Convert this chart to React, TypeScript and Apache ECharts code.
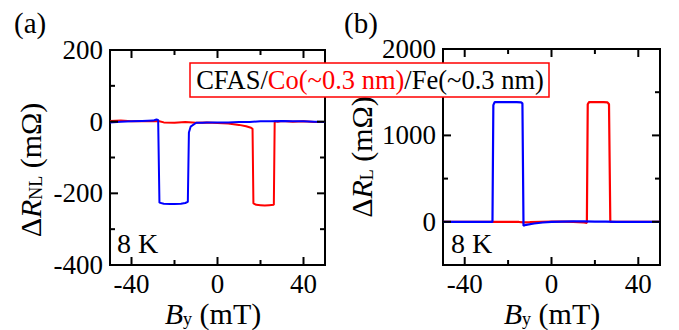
import React, { useEffect, useRef } from "react";
import * as echarts from "echarts";

// Panel (a): non-local ΔR_NL (mΩ) vs B_y (mT)
const redAX = [-50, -45, -40, -35, -30, -27.5, -25, -20, -15, -10, -5, 0, 5, 10, 13.3, 15.6, 16.3, 16.7, 18, 20, 22, 24, 26.2, 26.6, 28, 30, 35, 40, 45, 50];
const redAY = [2, 3, 1, 2, 1, 2, -2, -3, -1, -3, -2, -4, -5, -9, -13, -17, -20, -228, -232, -233, -234, -233, -232, 1, 0, 2, 0, 1, -1, -1];
const blueAX = [-50, -45, -40, -35, -30, -28.4, -27.6, -27.0, -25, -22, -20, -17, -15, -13.8, -13.3, -12.5, -9.9, -7, -5, 0, 5, 10, 15, 20, 25, 30, 35, 40, 45, 50];
const blueAY = [-2, 0, 1, 2, 3, 6, 5, -226, -229, -230, -230, -229, -227, -224, -30, -14, -3, -3, -2, -2, -2, -1, -1, 1, 1, 2, 1, 1, 0, -1];

// Panel (b): local ΔR_L (mΩ) vs B_y (mT)
const redBX = [-50, -40, -30, -26, -20, -15, -13, -10, -5, 0, 5, 10, 15, 16.3, 16.7, 17.3, 20, 24, 25.8, 26.5, 27.1, 28, 30, 40, 50];
const redBY = [0, 0, 0, 0, 0, -2, -6, -4, 0, 3, 2, -2, -8, -12, 1360, 1385, 1386, 1385, 1382, 1360, 0, 0, 0, 0, 0];
const blueBX = [-50, -40, -30, -27.2, -26.8, -26.2, -20, -16, -14, -13.4, -12.9, -11.7, -8, -4, 0, 5, 10, 15, 20, 25, 30, 40, 50];
const blueBY = [0, 0, 0, 0, 1350, 1385, 1386, 1385, 1383, 1370, -45, -35, -20, -8, 0, 3, 5, 5, 3, 2, 0, 0, 0];

const xRange = [-50, 50];
const xMajor = [-40, 0, 40];
const xMinor = [-20, 20];
const yRangeA = [-400, 200];
const yMajorA = [-400, -200, 0, 200];
const yMinorA = [-300, -100, 100];
const yRangeB = [-500, 2000];
const yMajorB = [0, 1000, 2000];
const yMinorB = [500, 1500];
// tick labels of panel (b)'s y axis, every 500 from -500 to 2000 (blank where unlabeled)
const yLabelsB = ["", "0", " ", "1000", "  ", "2000"];

const FONT = "Liberation Serif";
const zip = (xs: number[], ys: number[]) => xs.map((x, i) => [x, ys[i]]);

function valueAxis(grid: number, pos: string, range: number[], vals: number[] | null, margin: number) {
  return {
    type: "value",
    gridIndex: grid,
    position: pos,
    min: range[0],
    max: range[1],
    axisLine: { show: false, onZero: false },
    splitLine: { show: false },
    axisTick: { show: false },
    axisLabel: vals
      ? { show: true, customValues: vals, fontFamily: FONT, fontSize: 27, color: "#000", margin }
      : { show: false },
  };
}

// inside tick marks on all four sides, positioned through the axes' scales
function tickSeries(kind: "x" | "y", axisIdx: number, major: number[], minor: number[], xr: number[], yr: number[]) {
  const data = [...major.map((v) => [v, 1]), ...minor.map((v) => [v, 0])];
  return {
    type: "custom",
    xAxisIndex: axisIdx,
    yAxisIndex: axisIdx,
    silent: true,
    z: 5,
    data,
    renderItem: (_p: any, api: any) => {
      const v = api.value(0);
      const len = api.value(1) ? 8 : 5;
      const st = { stroke: "#000", lineWidth: 2 };
      if (kind === "x") {
        const b = api.coord([v, yr[0]]);
        const t = api.coord([v, yr[1]]);
        return {
          type: "group",
          children: [
            { type: "line", shape: { x1: b[0], y1: b[1], x2: b[0], y2: b[1] - len }, style: st },
            { type: "line", shape: { x1: t[0], y1: t[1], x2: t[0], y2: t[1] + len }, style: st },
          ],
        };
      }
      const l = api.coord([xr[0], v]);
      const r = api.coord([xr[1], v]);
      return {
        type: "group",
        children: [
          { type: "line", shape: { x1: l[0], y1: l[1], x2: l[0] + len, y2: l[1] }, style: st },
          { type: "line", shape: { x1: r[0], y1: r[1], x2: r[0] - len, y2: r[1] }, style: st },
        ],
      };
    },
  };
}

export default function App() {
  const ref = useRef<HTMLDivElement>(null);
  useEffect(() => {
    if (!ref.current) return;
    const chart = echarts.init(ref.current, null, { renderer: "svg" });
    const lineSeries = (data: number[][], color: string, idx: number, w: number) => ({
      type: "line",
      xAxisIndex: idx,
      yAxisIndex: idx,
      data,
      showSymbol: false,
      symbol: "none",
      lineStyle: { color, width: w },
      itemStyle: { color },
      clip: true,
      z: 3,
    });
    const title = {
      n: { fontFamily: FONT, fontSize: 30, fill: "#000", lineHeight: 30 },
      i: { fontFamily: FONT, fontSize: 30, fontStyle: "italic", fill: "#000", lineHeight: 30 },
      s: { fontFamily: FONT, fontSize: 18, fill: "#000", lineHeight: 18, padding: [12, 0, 0, 0] },
    };
    const box = {
      n: { fontFamily: FONT, fontSize: 26.5, fill: "#000", lineHeight: 30 },
      r: { fontFamily: FONT, fontSize: 26.5, fill: "#ff0000", lineHeight: 30 },
    };
    const plain = (t: string, x: number, y: number, size: number) => ({
      type: "text",
      x,
      y,
      style: { text: t, fontFamily: FONT, fontSize: size, fill: "#000", verticalAlign: "middle" },
    });
    const frame = { show: true, borderColor: "#000", borderWidth: 2, backgroundColor: "transparent" };
    chart.setOption({
      animation: false,
      backgroundColor: "#fff",
      grid: [
        { left: 110, top: 50, width: 215, height: 215, ...frame },
        { left: 443, top: 49, width: 217, height: 216, ...frame },
      ],
      xAxis: [valueAxis(0, "bottom", xRange, xMajor, 5), valueAxis(1, "bottom", xRange, xMajor, 5)],
      yAxis: [
        valueAxis(0, "left", yRangeA, yMajorA, 7),
        valueAxis(1, "left", yRangeB, null, 7),
        {
          type: "category",
          gridIndex: 1,
          position: "left",
          data: yLabelsB,
          boundaryGap: false,
          axisLine: { show: false, onZero: false },
          axisTick: { show: false },
          splitLine: { show: false },
          axisLabel: { show: true, interval: 0, fontFamily: FONT, fontSize: 27, color: "#000", margin: 7 },
        },
      ],
      series: [
        lineSeries(zip(redAX, redAY), "#ff0000", 0, 2),
        lineSeries(zip(blueAX, blueAY), "#0000ff", 0, 2),
        lineSeries(zip(redBX, redBY), "#ff0000", 1, 2.2),
        lineSeries(zip(blueBX, blueBY), "#0000ff", 1, 2.2),
        tickSeries("x", 0, xMajor, xMinor, xRange, yRangeA),
        tickSeries("y", 0, yMajorA, yMinorA, xRange, yRangeA),
        tickSeries("x", 1, xMajor, xMinor, xRange, yRangeB),
        tickSeries("y", 1, yMajorB, yMinorB, xRange, yRangeB),
      ],
      graphic: [
        plain("(a)", 14, 23, 29),
        plain("(b)", 344, 23, 29),
        plain("8 K", 117, 243, 28),
        plain("8 K", 451, 243, 28),
        {
          type: "text",
          x: 30,
          y: 170,
          rotation: Math.PI / 2,
          style: { text: "{n|Δ}{i|R}{s|NL}{n| (mΩ)}", rich: title, align: "center", verticalAlign: "middle" },
        },
        {
          type: "text",
          x: 361,
          y: 157,
          rotation: Math.PI / 2,
          style: { text: "{n|Δ}{i|R}{s|L}{n| (mΩ)}", rich: title, align: "center", verticalAlign: "middle" },
        },
        {
          type: "text",
          x: 213,
          y: 313,
          style: { text: "{i|B}{s|y}{n| (mT)}", rich: title, align: "center", verticalAlign: "middle" },
        },
        {
          type: "text",
          x: 552,
          y: 313,
          style: { text: "{i|B}{s|y}{n| (mT)}", rich: title, align: "center", verticalAlign: "middle" },
        },
        {
          type: "rect",
          z: 100,
          shape: { x: 190, y: 63, width: 359, height: 34 },
          style: { fill: "#fff", stroke: "#ff0000", lineWidth: 1.5 },
        },
        {
          type: "text",
          z: 101,
          x: 370,
          y: 80,
          style: { text: "{n|CFAS/}{r|Co(~0.3 nm)}{n|/Fe(~0.3 nm)}", rich: box, align: "center", verticalAlign: "middle" },
        },
      ],
    });
    return () => chart.dispose();
  }, []);
  return <div ref={ref} style={{ position: "absolute", left: 0, top: 0, width: 679, height: 330 }} />;
}
